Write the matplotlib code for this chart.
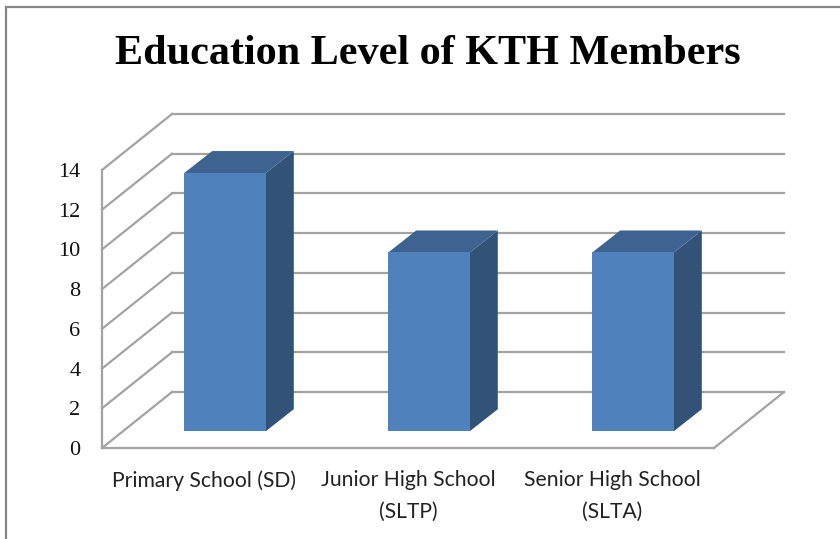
import matplotlib
matplotlib.use('Agg')
import matplotlib.pyplot as plt
from matplotlib.patches import Polygon, Rectangle
from matplotlib.transforms import Affine2D

categories = ['Primary School (SD)', 'Junior High School\n(SLTP)', 'Senior High School\n(SLTA)']
values = [13, 9, 9]
y_ticks = [0, 2, 4, 6, 8, 10, 12, 14]
title = 'Education Level of KTH Members'

W, H = 840, 539
GRID = '#a3a3a3'
FRONT = '#4f81bd'
SIDE = '#335278'
TOP = '#3e6390'

fig = plt.figure(figsize=(W / 100, H / 100), dpi=100)
fig.patch.set_facecolor('white')

# frame around the picture
fig.add_artist(Rectangle((6 / W, -0.02), 1, 1 - 7 / H + 0.02, transform=fig.transFigure,
                         fill=False, edgecolor='#868686', linewidth=1.6))

# the axes is the front plane of the 3d box
x0, x1, y0, y1 = 102, 714, 448, 170
ax = fig.add_axes([x0 / W, 1 - y0 / H, (x1 - x0) / W, (y0 - y1) / H])
ax.set_xlim(0, 3)
ax.set_ylim(0, 14)
ax.patch.set_visible(False)
for s in ax.spines.values():
    s.set_visible(False)


def depth(f):
    # data transform pushed back into the box, f=0 front, f=1 back wall
    return ax.transData + Affine2D().translate(70 * f, 56 * f)


def pixel_line(p, q):
    ax.add_line(plt.Line2D([p[0], q[0]], [p[1], q[1]], transform=None,
                           color=GRID, lw=1.6, clip_on=False))


# walls and gridlines
for v in y_ticks:
    ax.plot([0, 3], [v, v], transform=depth(1), color=GRID, lw=1.6, clip_on=False)
    pixel_line(ax.transData.transform((0, v)), depth(1).transform((0, v)))
ax.plot([0, 0], [0, 14], color=GRID, lw=1.6, clip_on=False)
ax.plot([0, 3], [0, 0], color=GRID, lw=1.6, clip_on=False)
pixel_line(ax.transData.transform((3, 0)), depth(1).transform((3, 0)))

# bars: front face plus side and top
bar_w = 0.4
bar_d = 0.3
positions = [0.5, 1.5, 2.5]
for p, v in zip(positions, values):
    front_tf = depth(bar_d)
    l, r = p - bar_w / 2, p + bar_w / 2
    b = front_tf.transform((r, 0))
    c = front_tf.transform((r, v))
    d = front_tf.transform((l, v))
    off = (28, 22)
    side = [b, (b[0] + off[0], b[1] + off[1]), (c[0] + off[0], c[1] + off[1]), c]
    top = [d, c, (c[0] + off[0], c[1] + off[1]), (d[0] + off[0], d[1] + off[1])]
    ax.add_patch(Polygon(side, closed=True, transform=None, facecolor=SIDE, edgecolor='none',
                         clip_on=False, zorder=3))
    ax.add_patch(Polygon(top, closed=True, transform=None, facecolor=TOP, edgecolor='none',
                         clip_on=False, zorder=3))
ax.bar(positions, values, width=bar_w, color=FRONT, transform=depth(bar_d), zorder=4, clip_on=False)

ax.set_yticks(y_ticks)
ax.set_yticklabels([str(v) for v in y_ticks], family='Liberation Serif', fontsize=16, color='#111111')
ax.tick_params(axis='y', length=0, pad=15.5)
ax.set_xticks(positions)
ax.set_xticklabels(categories, family='Lato', fontsize=15.2, color='#222222', linespacing=1.72)
ax.tick_params(axis='x', length=0, pad=16)

fig.text(427.5 / W, 1 - 54 / H, title, family='Liberation Serif', fontweight='bold', fontsize=30.3,
         color='black', ha='center', va='center')

fig.savefig('out.png', dpi=100)
